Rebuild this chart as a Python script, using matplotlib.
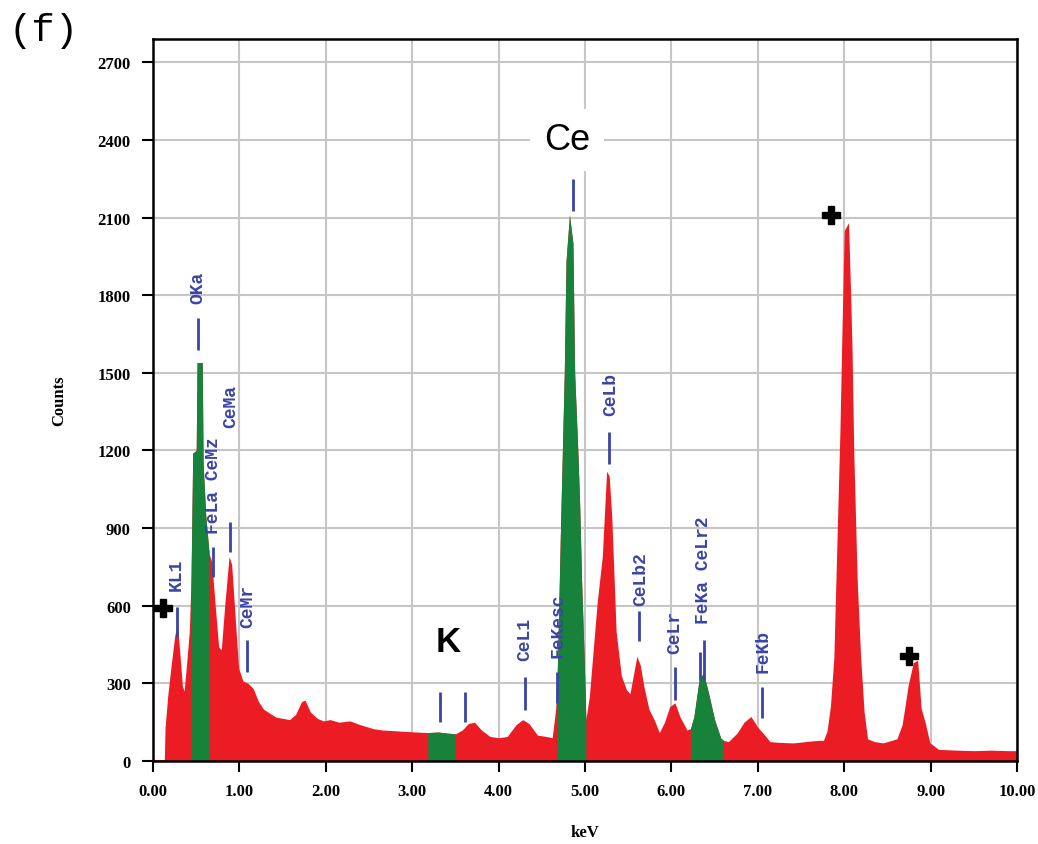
import numpy as np
import matplotlib
matplotlib.use('Agg')
import matplotlib.pyplot as plt

# EDS spectrum (keV, counts)
energy_kev = [0.00, 0.13, 0.14, 0.17, 0.21, 0.25, 0.28, 0.31, 0.34, 0.36, 0.39, 0.42,
              0.44, 0.46, 0.50, 0.51, 0.57, 0.58, 0.61, 0.65,
              0.68, 0.72, 0.76, 0.79, 0.83, 0.88, 0.91, 0.95, 0.99, 1.04, 1.10, 1.16,
              1.22, 1.28, 1.35, 1.42, 1.50, 1.58, 1.65, 1.72, 1.76, 1.82, 1.90, 1.97,
              2.05, 2.15, 2.28, 2.40, 2.55, 2.65, 2.75, 2.90, 3.05,
              3.18, 3.30, 3.40, 3.50,
              3.58, 3.65, 3.72, 3.80, 3.90, 4.00, 4.10, 4.20, 4.28, 4.35, 4.45, 4.55,
              4.62, 4.66,
              4.68, 4.72, 4.76, 4.78, 4.82, 4.86, 4.88, 4.92, 4.94, 4.96, 4.99, 5.01,
              5.05, 5.10, 5.14, 5.20, 5.25, 5.28, 5.31, 5.36, 5.42, 5.48, 5.52, 5.57,
              5.60, 5.64, 5.68, 5.74, 5.80, 5.86, 5.92, 5.98, 6.04, 6.10, 6.18,
              6.22, 6.26, 6.32, 6.37, 6.43, 6.50, 6.57, 6.60,
              6.66, 6.76, 6.84, 6.92, 7.00, 7.08, 7.14, 7.25, 7.41, 7.55, 7.70, 7.76,
              7.80, 7.84, 7.88, 7.92, 7.95, 7.97, 7.99, 8.00, 8.05, 8.07, 8.09, 8.11,
              8.15, 8.19, 8.23, 8.27, 8.35, 8.45, 8.55, 8.61, 8.67, 8.70, 8.74, 8.80,
              8.85, 8.89, 8.94, 8.99, 9.09, 9.30, 9.50, 9.70, 9.90, 10.00]
counts = [0, 0, 130, 250, 370, 480, 535, 420, 290, 270, 380, 500,
          700, 1190, 1200, 1540, 1540, 1150, 950, 800,
          770, 600, 440, 430, 600, 790, 760, 560, 360, 310, 300, 280,
          230, 200, 185, 170, 165, 160, 180, 230, 235, 190, 165, 155,
          160, 150, 155, 140, 125, 120, 118, 115, 112,
          110, 112, 108, 105,
          120, 145, 150, 120, 95, 90, 95, 140, 160, 145, 100, 95,
          90, 200,
          360, 950, 1500, 1930, 2110, 2000, 1500, 1170, 970, 700, 400, 160,
          250, 450, 610, 790, 1120, 1100, 940, 500, 330, 275, 260, 350,
          405, 370, 290, 200, 160, 110, 150, 210, 225, 170, 120,
          125, 171, 313, 340, 262, 159, 89, 80,
          75, 108, 150, 172, 130, 100, 75, 72, 70, 75, 80, 80,
          115, 211, 400, 900, 1270, 1600, 1900, 2050, 2080, 1850, 1600, 1200,
          700, 400, 190, 86, 75, 70, 80, 86, 140, 204, 293, 381,
          389, 204, 145, 71, 45, 42, 40, 42, 40, 40]

# highlighted windows (keV)
green_start = [0.44, 3.18, 4.68, 6.22]
green_end = [0.65, 3.50, 5.01, 6.60]

# peak labels
label_names = ['KL1', 'OKa', 'FeLa CeMz', 'CeMa', 'CeMr', 'CeL1', 'FeKesc',
               'CeLb', 'CeLb2', 'CeLr', 'FeKa CeLr2', 'FeKb']
label_kev = [0.27, 0.52, 0.70, 0.90, 1.10, 4.30, 4.69, 5.30, 5.65, 6.04, 6.37, 7.06]
label_base = [660, 1770, 882, 1292, 518, 391, 402, 1338, 603, 418, 534, 344]

# marker lines
line_kev = [0.28, 0.52, 0.70, 0.89, 1.09, 3.32, 3.61, 4.31, 4.68, 4.86, 5.28, 5.62,
            6.04, 6.33, 6.38, 7.05]
line_lo = [480, 1590, 712, 808, 344, 150, 150, 197, 224, 2124, 1149, 464,
           236, 313, 313, 166]
line_hi = [596, 1713, 828, 925, 468, 268, 268, 325, 344, 2248, 1273, 580,
           364, 421, 468, 286]

# "+" markers
plus_kev = [0.12, 7.85, 8.75]
plus_counts = [590, 2108, 406]

red = '#ec1c24'
green = '#17823a'
blue = '#3a44a6'

e = np.array(energy_kev)
c = np.array(counts)

fig = plt.figure(figsize=(10.38, 8.45), dpi=100)
ax = fig.add_axes([0.1474, 0.0982, 0.8324, 0.8545])

ax.fill_between(e, c, color=red, lw=0, zorder=2)
ax.axhline(0, color=red, lw=1.5, zorder=1.5)
for a, b in zip(green_start, green_end):
    m = (e >= a) & (e <= b)
    ax.fill_between(e[m], c[m], color=green, lw=0, zorder=3)

ax.vlines(line_kev, line_lo, line_hi, color=blue, lw=2, zorder=4)
for name, x, y in zip(label_names, label_kev, label_base):
    ax.text(x, y, name, rotation=90, ha='center', va='bottom', color=blue,
            family='Liberation Mono', fontweight='bold', fontsize=13, zorder=5)

ax.plot(plus_kev, plus_counts, 'P', color='black', ms=13, zorder=6)

ax.text(4.79, 2400, 'Ce', ha='center', va='center', fontsize=26,
        family='Liberation Sans', color='black', zorder=5,
        bbox=dict(facecolor='white', edgecolor='none', pad=10))
ax.text(3.42, 460, 'K', ha='center', va='center', fontsize=25,
        family='Liberation Sans', fontweight='bold', color='black', zorder=5)

ax.set_xlim(0, 10)
ax.set_ylim(0, 2790)
ax.set_xticks(np.arange(0, 11, 1))
ax.set_xticklabels(['%.2f' % v for v in range(11)])
ax.set_yticks(np.arange(0, 2701, 300))
ax.grid(color='#c6c6c6', lw=1.5)
ax.set_axisbelow(True)
for s in ax.spines.values():
    s.set_linewidth(1.8)
    s.set_zorder(7)
ax.tick_params(direction='out', length=8, width=1.5, labelsize=12, pad=8)
for lab in ax.get_xticklabels() + ax.get_yticklabels():
    lab.set_family('Liberation Serif')
    lab.set_fontweight('bold')

ax.set_xlabel('keV', family='Liberation Serif', fontweight='bold', fontsize=12, labelpad=18)
ax.set_ylabel('Counts', family='Liberation Serif', fontweight='bold', fontsize=12, labelpad=22)

fig.text(0.008, 0.963, '(f)', family='Liberation Mono', fontsize=28, va='center')

fig.savefig('out.png', dpi=100)
